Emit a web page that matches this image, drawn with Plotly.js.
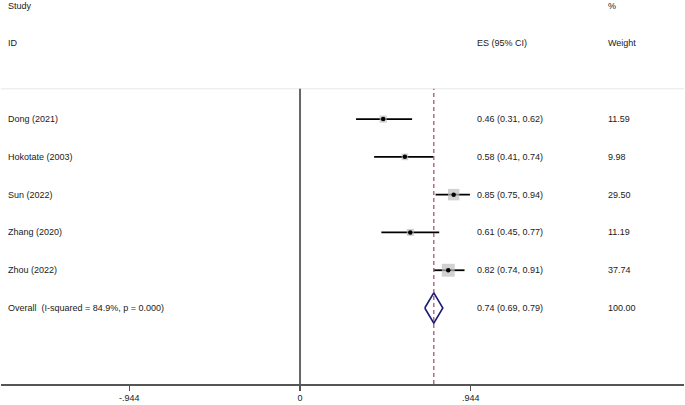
<!DOCTYPE html>
<html>
<head>
<meta charset="utf-8">
<script src="https://cdn.plot.ly/plotly-3.0.1.min.js"></script>
<style>html,body{margin:0;padding:0;background:#fff;}#chart{width:685px;height:405px;}</style>
</head>
<body>
<div id="chart"></div>
<script>
// Data
const studies = ["Dong (2021)", "Hokotate (2003)", "Sun (2022)", "Zhang (2020)", "Zhou (2022)"];
const es      = [0.46, 0.58, 0.85, 0.61, 0.82];
const lo      = [0.31, 0.41, 0.75, 0.45, 0.74];
const hi      = [0.62, 0.74, 0.94, 0.77, 0.91];
const weights = ["11.59", "9.98", "29.50", "11.19", "37.74"];
const overallLabel = "Overall  (I-squared = 84.9%, p = 0.000)";
const overallES = 0.74, overallLo = 0.69, overallHi = 0.79, overallWeight = "100.00";
const tickVals = [-0.944, 0, 0.944];
const tickText = ["-.944", "0", ".944"];

// Layout helpers (positions)
const rowY = studies.map((_, i) => studies.length + 1 - i); // 6..2
const overallY = 1;
const FONT = {family: "Liberation Sans, Arial, sans-serif", size: 9, color: "#1a1a1a"};

const fmt = (e, l, h) => e.toFixed(2) + " (" + l.toFixed(2) + ", " + h.toFixed(2) + ")";

// CI lines
const ciX = [], ciY = [];
studies.forEach((s, i) => { ciX.push(lo[i], hi[i], null); ciY.push(rowY[i], rowY[i], null); });

const traces = [
  {x: ciX, y: ciY, mode: "lines", line: {color: "#000", width: 1.8}, hoverinfo: "skip", showlegend: false},
  {x: es, y: rowY, mode: "markers", marker: {symbol: "square", color: "#bdbdbd",
     size: weights.map(w => 2.1 * Math.sqrt(parseFloat(w))), line: {width: 0}}, hoverinfo: "skip", showlegend: false},
  {x: es, y: rowY, mode: "markers", marker: {symbol: "circle", color: "#000", size: 4.5}, hoverinfo: "skip", showlegend: false},
  {x: [overallLo, overallES, overallHi, overallES, overallLo],
   y: [overallY, overallY + 0.4, overallY, overallY - 0.4, overallY],
   mode: "lines", line: {color: "#1c1c78", width: 1.6}, hoverinfo: "skip", showlegend: false}
];

const xLeft = -1.628, xES = 0.970, xW = 1.690;
const ann = [];
const addText = (x, y, t) => ann.push({x: x, y: y, xref: "x", yref: "y", text: t, showarrow: false,
  xanchor: "left", yanchor: "middle", font: FONT});
addText(xLeft, 9, "Study");
addText(xLeft, 8, "ID");
addText(xES, 8, "ES (95% CI)");
addText(xW, 9, "%");
addText(xW, 8, "Weight");
studies.forEach((s, i) => {
  addText(xLeft, rowY[i], s);
  addText(xES, rowY[i], fmt(es[i], lo[i], hi[i]));
  addText(xW, rowY[i], weights[i]);
});
addText(xLeft, overallY, overallLabel);
addText(xES, overallY, fmt(overallES, overallLo, overallHi));
addText(xW, overallY, overallWeight);

const yBottom = -1.01, yTop = 9.15, lineTop = 6.8;
const shapes = [
  {type: "line", xref: "paper", yref: "y", x0: 0, x1: 1, y0: lineTop, y1: lineTop, line: {color: "#e6e6e6", width: 1}},
  {type: "line", xref: "x", yref: "y", x0: 0, x1: 0, y0: yBottom, y1: lineTop, line: {color: "#666", width: 2}},
  {type: "line", xref: "x", yref: "y", x0: overallES, x1: overallES, y0: yBottom, y1: lineTop,
   line: {color: "#a8557a", width: 1.3, dash: "4px,3px"}}
];

const layout = {
  width: 685, height: 405,
  margin: {l: 1, r: 1, t: 0, b: 21},
  paper_bgcolor: "#fff", plot_bgcolor: "#fff",
  xaxis: {range: [-1.654, 2.124], showgrid: false, zeroline: false, showline: true, linecolor: "#555", linewidth: 1.5,
          ticks: "outside", ticklen: 5, tickwidth: 1.2, tickcolor: "#555", tickvals: tickVals, ticktext: tickText,
          tickfont: FONT, automargin: false, fixedrange: true},
  yaxis: {range: [yBottom, yTop], visible: false, showgrid: false, zeroline: false, fixedrange: true},
  annotations: ann,
  shapes: shapes,
  showlegend: false
};

Plotly.newPlot("chart", traces, layout, {displayModeBar: false, staticPlot: true});
</script>
</body>
</html>
